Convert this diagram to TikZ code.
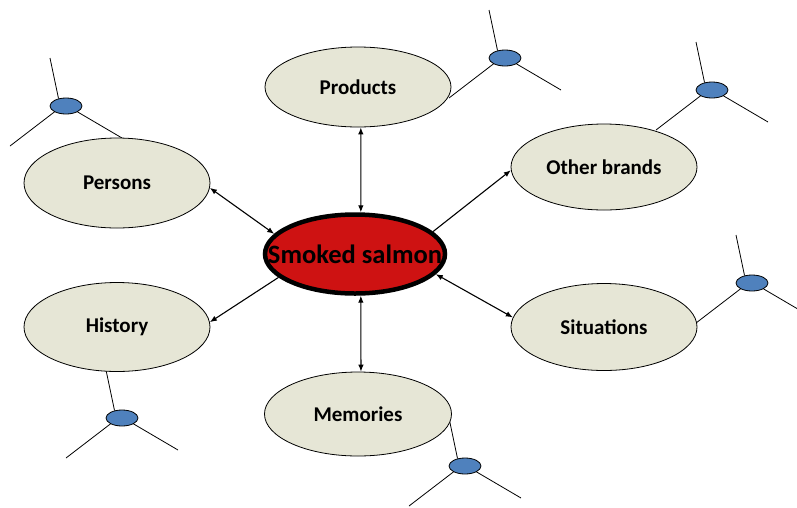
\documentclass[tikz,border=0pt]{standalone}
\usepackage{fontspec}
\setmainfont{Carlito}
\usetikzlibrary{shapes.geometric,arrows.meta}
\definecolor{beige}{RGB}{230,230,214}
\definecolor{salmonred}{RGB}{206,18,18}
\definecolor{blobblue}{RGB}{79,129,189}
\tikzset{
  topic/.style={ellipse,draw=black,line width=0.8pt,fill=beige,inner sep=0pt,
    font=\fontsize{21}{24}\selectfont\bfseries},
  hub/.style={ellipse,draw=black,line width=4.5pt,fill=salmonred,inner sep=0pt,
    minimum width=180pt,minimum height=79pt},
  hubtext/.style={font=\fontsize{26.5}{30}\selectfont\bfseries,inner sep=0pt},
  blob/.style={ellipse,draw=black,line width=0.8pt,fill=blobblue,inner sep=0pt,
    minimum width=32pt,minimum height=16pt},
  link/.style={line width=1.1pt,-{Latex[length=7pt,width=5.5pt]}},
  dlink/.style={line width=1.1pt,{Latex[length=7pt,width=5.5pt]}-{Latex[length=7pt,width=5.5pt]}},
  twig/.style={line width=0.8pt}
}
\begin{document}
\begin{tikzpicture}[x=1pt,y=-1pt]
\useasboundingbox (0,0) rectangle (797,507);
\clip (0,0) rectangle (797,507);
% blue little nodes with their twigs
\foreach \n/\x/\y in {bpersons/66/106,bproducts/505/58,bbrands/712/90,bhistory/122/418,bmemories/465/466,bsituations/752/283}{
  \node[blob] (\n) at (\x,\y) {};
  \coordinate (\n-t) at (\x-16,\y-48);
  \coordinate (\n-l) at (\x-56,\y+40);
  \coordinate (\n-r) at (\x+56,\y+32);
  \draw[twig] (\n-t) -- (\n.135);
  \draw[twig] (\n.south west) -- (\n-l);
  \draw[twig] (\n.south east) -- (\n-r);
}
% topic ellipses
\node[topic,minimum width=186pt,minimum height=80pt] (products) at (358,87) {Products};
\node[topic,minimum width=186pt,minimum height=90pt] (persons) at (117,183) {Persons};
\node[topic,minimum width=186pt,minimum height=86pt] (brands) at (604,167) {Other brands};
\node[topic,minimum width=186pt,minimum height=89pt] (history) at (117,327) {History};
\node[topic,minimum width=186pt,minimum height=87pt] (situations) at (604,327) {Situations};
\node[topic,minimum width=187pt,minimum height=84pt] (memories) at (358,414) {Memories};
% hub
\node[hub,label={[hubtext,name=hubl]center:Smoked salmon}] (hub) at (355,254) {};
% connectors
\draw[dlink] (products.-86) -- (hub.82);
\draw[dlink] (memories.86) -- (hub.-82);
\draw[dlink] (persons.-3) -- (hub.166);
\draw[link] (hub.16) -- (brands.182);
\draw[link] (hub.197) -- (history.3);
\draw[dlink] (hub.-14) -- (situations.174);
\end{tikzpicture}
\end{document}
